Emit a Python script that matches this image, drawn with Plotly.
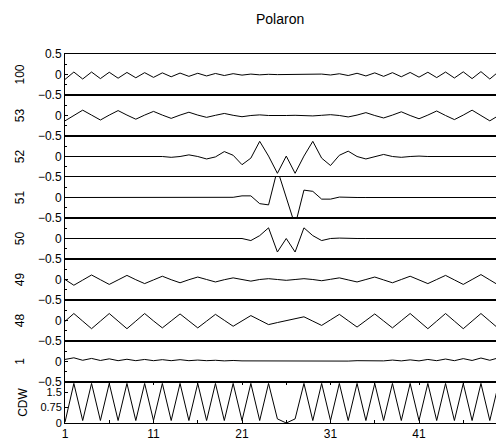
import plotly.graph_objects as go
from plotly.subplots import make_subplots

# Lattice sites along the chain
sites = list(range(1, 51))

# Eigenvector amplitudes of selected states (one value per site)
state_100 = [-0.12, 0.06, -0.11, 0.06, -0.10, 0.055, -0.09, 0.05, -0.08, 0.045,
             -0.07, 0.04, -0.055, 0.035, -0.045, 0.03, -0.035, 0.025, -0.025, 0.02,
             -0.015, 0.01, -0.008, 0.005, -0.003, 0.0, -0.002, 0.004, -0.006, 0.01,
             -0.012, 0.018, -0.025, 0.03, -0.035, 0.04, -0.045, 0.045, -0.055, 0.05,
             -0.065, 0.055, -0.075, 0.06, -0.085, 0.065, -0.10, 0.07, -0.11, 0.07]

state_53 = [-0.13, 0.0, 0.13, 0.01, -0.11, 0.01, 0.12, 0.01, -0.09, 0.01,
            0.10, 0.01, -0.07, 0.01, 0.08, 0.01, -0.045, 0.005, 0.05, 0.005,
            -0.03, 0.0, 0.015, 0.0, -0.005, 0.0, 0.005, 0.0, -0.01, 0.005,
            0.02, 0.0, -0.035, 0.01, 0.07, 0.0, -0.06, 0.01, 0.09, 0.0,
            -0.08, 0.01, 0.11, 0.0, -0.10, 0.01, 0.13, 0.0, -0.13, 0.0]

state_52 = [0.0, 0.0, 0.0, 0.0, 0.0, 0.0, 0.0, 0.0, 0.005, 0.0,
            0.01, 0.0, -0.02, 0.0, 0.04, 0.0, -0.06, -0.01, 0.12, 0.03,
            -0.20, -0.04, 0.37, 0.01, -0.41, 0.01, -0.41, 0.01, 0.37, -0.04,
            -0.22, 0.03, 0.13, 0.0, -0.06, 0.0, 0.05, 0.0, -0.02, 0.0,
            0.01, 0.0, 0.0, 0.0, 0.0, 0.0, 0.0, 0.0, 0.0, 0.0]

state_51 = [0.0, 0.0, 0.0, 0.0, 0.0, 0.0, 0.0, 0.0, 0.0, 0.0,
            0.0, 0.0, 0.0, 0.0, 0.0, 0.0, 0.0, 0.0, 0.0, 0.005,
            0.04, 0.04, -0.15, -0.18, 0.68, 0.0, -0.68, 0.18, 0.15, -0.04,
            -0.04, 0.01, 0.0, 0.0, 0.0, 0.0, 0.0, 0.0, 0.0, 0.0,
            0.0, 0.0, 0.0, 0.0, 0.0, 0.0, 0.0, 0.0, 0.0, 0.0]

state_50 = [0.0, 0.0, 0.0, 0.0, 0.0, 0.0, 0.0, 0.0, 0.0, 0.0,
            0.0, 0.0, 0.0, 0.0, 0.0, 0.0, 0.0, 0.0, 0.0, 0.0,
            0.0, -0.05, 0.07, 0.26, -0.33, 0.0, -0.33, 0.26, 0.07, -0.05,
            0.0, 0.01, 0.0, 0.0, 0.0, 0.0, 0.0, 0.0, 0.0, 0.0,
            0.0, 0.0, 0.0, 0.0, 0.0, 0.0, 0.0, 0.0, 0.0, 0.0]

state_49 = [0.0, -0.14, -0.015, 0.11, -0.005, -0.12, -0.01, 0.10, -0.005, -0.10,
            -0.01, 0.08, -0.005, -0.08, -0.005, 0.06, 0.0, -0.06, -0.005, 0.04,
            0.0, -0.04, 0.0, 0.02, 0.0, -0.02, 0.0, 0.02, 0.0, -0.03,
            0.005, 0.04, -0.01, -0.06, 0.0, 0.06, -0.01, -0.08, 0.0, 0.08,
            -0.01, -0.10, 0.0, 0.10, -0.01, -0.12, 0.0, 0.12, -0.01, -0.14]

state_48 = [-0.02, 0.17, -0.015, -0.20, -0.015, 0.17, -0.015, -0.20, -0.015, 0.17,
            -0.01, -0.18, -0.01, 0.16, -0.01, -0.18, -0.015, 0.15, 0.005, -0.14,
            -0.01, 0.12, 0.01, -0.10, -0.05, 0.0, 0.045, 0.09, -0.015, -0.12,
            0.015, 0.15, -0.005, -0.16, 0.0, 0.16, -0.01, -0.18, -0.005, 0.17,
            -0.015, -0.20, -0.015, 0.17, -0.015, -0.20, -0.015, 0.17, -0.015, -0.20]

state_1 = [0.05, 0.09, 0.03, 0.075, 0.025, 0.065, 0.02, 0.055, 0.02, 0.05,
           0.02, 0.045, 0.02, 0.045, 0.02, 0.035, 0.02, 0.03, 0.015, 0.025,
           0.015, 0.015, 0.01, 0.005, 0.0, 0.0, 0.0, 0.005, 0.01, 0.01,
           0.01, 0.015, 0.01, 0.02, 0.015, 0.025, 0.015, 0.035, 0.015, 0.04,
           0.015, 0.05, 0.02, 0.06, 0.02, 0.07, 0.025, 0.085, 0.03, 0.09]

# Charge density wave occupation per site
cdw_density = [0.04, 1.93, 0.12, 1.93, 0.12, 1.93, 0.12, 1.93, 0.12, 1.93,
               0.12, 1.93, 0.12, 1.93, 0.12, 1.93, 0.12, 1.93, 0.12, 1.93,
               0.12, 1.93, 0.12, 1.93, 0.20, 0.0, 0.20, 1.93, 0.12, 1.93,
               0.12, 1.93, 0.12, 1.93, 0.12, 1.93, 0.12, 1.93, 0.12, 1.93,
               0.12, 1.93, 0.12, 1.93, 0.12, 1.93, 0.12, 1.93, 0.12, 1.93]

panel_labels = ["100", "53", "52", "51", "50", "49", "48", "1", "CDW"]
panel_series = [state_100, state_53, state_52, state_51, state_50,
                state_49, state_48, state_1, cdw_density]

x_tickvals = [1, 6, 11, 16, 21, 26, 31, 36, 41, 46]
x_ticktext = ["1", "", "11", "", "21", "", "31", "", "41", ""]

font_family = "Liberation Sans, Arial, Helvetica, sans-serif"
n_rows = len(panel_labels)

fig = make_subplots(rows=n_rows, cols=1, shared_xaxes=True, vertical_spacing=0)

for row, (label, values) in enumerate(zip(panel_labels, panel_series), start=1):
    fig.add_trace(
        go.Scatter(x=sites, y=values, mode="lines",
                   line=dict(color="black", width=1),
                   showlegend=False, hoverinfo="skip"),
        row=row, col=1,
    )
    is_bottom = row == n_rows
    fig.update_xaxes(
        range=[1, 49.7], showgrid=False, zeroline=False,
        showline=True, linecolor="black", linewidth=1,
        mirror="ticks" if is_bottom else True,
        ticks="inside" if is_bottom else "", ticklen=3, tickcolor="black",
        tickmode="array", tickvals=x_tickvals, ticktext=x_ticktext,
        showticklabels=is_bottom,
        row=row, col=1,
    )
    if is_bottom:
        y_range = [0, 2.0]
        y_vals = [0, 0.75, 1.5, 2.0]
        y_text = ["0", "0.75", "1.5", ""]
        minor = dict(ticks="")
        tick_size = 11
    else:
        y_range = [-0.5, 0.5]
        y_vals = [-0.5, 0, 0.5]
        # the 0.5 label is only written on the top panel; below it the
        # boundary already carries the -0.5 label of the panel above
        y_text = ["\u22120.5", "0", "0.5" if row == 1 else ""]
        minor = dict(ticks="inside", tickvals=[-0.25, 0.25], ticklen=2,
                     tickcolor="black")
        tick_size = 12
    fig.update_yaxes(
        range=y_range, showgrid=False, zeroline=False,
        showline=True, linecolor="black", linewidth=1, mirror=False,
        ticks="inside", ticklen=3, tickcolor="black",
        tickmode="array", tickvals=y_vals, ticktext=y_text,
        tickfont=dict(family=font_family, size=tick_size, color="black"),
        minor=minor,
        title=dict(text=label, standoff=10,
                   font=dict(family=font_family, size=12, color="black")),
        row=row, col=1,
    )

fig.update_layout(
    width=496, height=441,
    margin=dict(l=65, r=0, t=54, b=18, autoexpand=False),
    paper_bgcolor="white", plot_bgcolor="white",
    font=dict(family=font_family, size=12, color="black"),
    title=dict(text="Polaron", x=0.5648, xanchor="center",
               y=1 - 19 / 441, yanchor="middle", yref="container",
               font=dict(family=font_family, size=14, color="black")),
)

fig.write_html("out.html")
